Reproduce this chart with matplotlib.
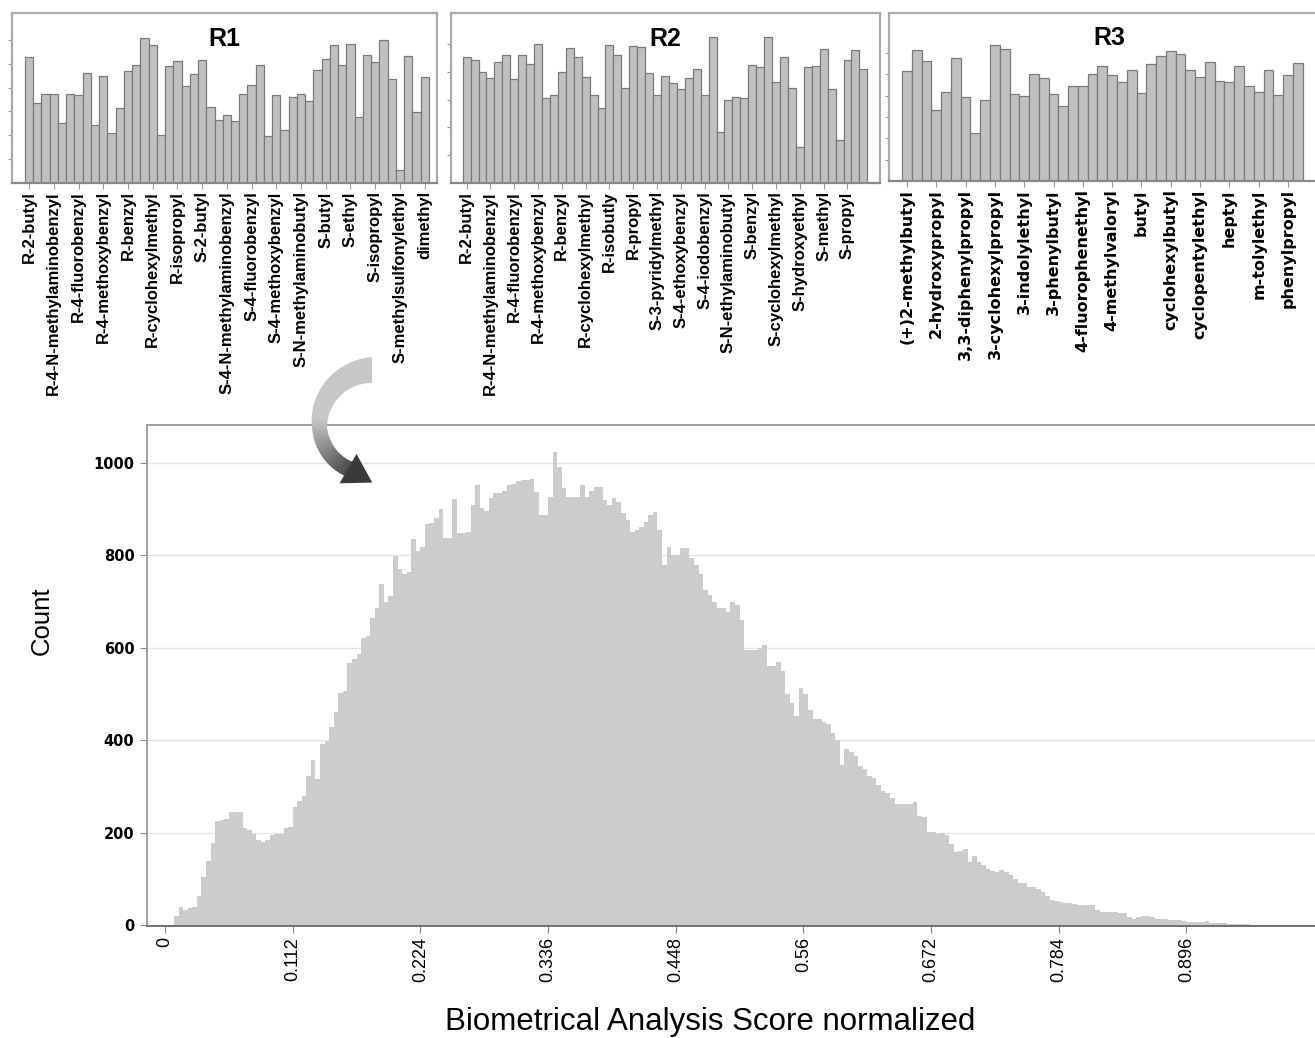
import numpy as np
import matplotlib
matplotlib.use("Agg")
import matplotlib.pyplot as plt
from matplotlib import font_manager
from matplotlib.patches import Polygon

plt.rcParams['font.family'] = ['Liberation Sans', 'DejaVu Sans']

"""
Data read off the picture.
Top panels: substituent scores per position (in tick units of each small chart).
Bottom: histogram of the normalized score, bins of 0.004 starting at 0.
"""
r1_labels = ['R-2-butyl', 'R-4-N-methylaminobenzyl', 'R-4-fluorobenzyl', 'R-4-methoxybenzyl',
             'R-benzyl', 'R-cyclohexylmethyl', 'R-isopropyl', 'S-2-butyl',
             'S-4-N-methylaminobenzyl', 'S-4-fluorobenzyl', 'S-4-methoxybenzyl',
             'S-N-methylaminobutyl', 'S-butyl', 'S-ethyl', 'S-isopropyl',
             'S-methylsulfonylethyl', 'dimethyl']
r1_values = [5.27, 3.36, 3.75, 3.75, 2.52, 3.75, 3.71, 4.62, 2.45, 4.48,
             2.10, 3.15, 4.69, 4.97, 6.08, 5.78, 2.03, 4.92, 5.10, 4.06,
             4.59, 5.15, 3.17, 2.66, 2.84, 2.62, 3.75, 4.13, 4.97, 1.96,
             3.68, 2.24, 3.61, 3.75, 3.43, 4.76, 5.22, 5.78, 4.97, 5.83,
             2.77, 5.36, 5.09, 5.99, 4.38, 0.56, 5.34, 2.98, 4.45]

r2_labels = ['R-2-butyl', 'R-4-N-methylaminobenzyl', 'R-4-fluorobenzyl', 'R-4-methoxybenzyl',
             'R-benzyl', 'R-cyclohexylmethyl', 'R-isobutly', 'R-propyl',
             'S-3-pyridylmethyl', 'S-4-ethoxybenzyl', 'S-4-iodobenzyl',
             'S-N-ethylaminobutyl', 'S-benzyl', 'S-cyclohexylmethyl', 'S-hydroxyethyl',
             'S-methyl', 'S-propyl']
r2_values = [4.52, 4.41, 4.01, 3.77, 4.37, 4.59, 3.75, 4.61, 4.28, 5.00,
             3.05, 3.17, 3.99, 4.86, 4.55, 3.81, 3.17, 2.71, 4.95, 4.61,
             3.41, 4.92, 4.89, 3.95, 3.17, 3.86, 3.61, 3.37, 3.77, 4.11,
             3.16, 5.24, 1.82, 2.99, 3.08, 3.05, 4.24, 4.17, 5.24, 3.65,
             4.55, 3.41, 1.30, 4.17, 4.22, 4.82, 3.37, 1.54, 4.43, 4.80, 4.11]

r3_labels = ['(+)2-methylbutyl', '2-hydroxypropyl', '3,3-diphenylpropyl', '3-cyclohexylpropyl',
             '3-indolylethyl', '3-phenylbutyl', '4-fluorophenethyl', '4-methylvaloryl',
             'butyl', 'cyclohexylbutyl', 'cyclopentylethyl', 'heptyl', 'm-tolylethyl',
             'phenylpropyl']
r3_values = [5.14, 6.16, 5.61, 3.34, 4.17, 5.77, 3.93, 2.24, 3.81, 6.36,
             6.21, 4.09, 4.01, 5.03, 4.83, 4.08, 3.54, 4.47, 4.47, 5.03,
             5.38, 4.95, 4.64, 5.19, 4.15, 5.50, 5.88, 6.11, 5.97, 5.22,
             4.86, 5.58, 4.70, 4.64, 5.38, 4.47, 4.17, 5.20, 4.03, 4.97, 5.53]

bin_width = 0.004
counts = [0, 0, 20, 40, 32, 38, 40, 63, 103, 139,
          178, 225, 228, 230, 245, 245, 245, 211, 206, 198,
          185, 180, 185, 195, 196, 198, 211, 213, 255, 269,
          280, 323, 358, 316, 392, 399, 428, 460, 503, 506,
          567, 575, 586, 621, 625, 665, 686, 737, 698, 712,
          799, 770, 759, 763, 835, 809, 817, 867, 871, 881,
          901, 837, 837, 921, 848, 848, 850, 909, 953, 903,
          896, 924, 935, 935, 940, 953, 955, 960, 962, 964,
          966, 937, 887, 887, 927, 1024, 991, 945, 927, 927,
          927, 952, 927, 940, 948, 948, 919, 909, 923, 915,
          891, 876, 851, 855, 862, 873, 887, 894, 855, 779,
          819, 801, 801, 815, 815, 794, 779, 760, 725, 714,
          700, 686, 686, 678, 700, 693, 660, 596, 596, 596,
          600, 606, 560, 560, 570, 549, 500, 481, 452, 513,
          500, 466, 445, 445, 440, 434, 415, 401, 347, 380,
          375, 365, 345, 337, 322, 318, 304, 290, 285, 276,
          262, 261, 261, 263, 266, 236, 233, 201, 201, 198,
          199, 195, 176, 158, 160, 165, 137, 150, 137, 130,
          122, 118, 115, 119, 115, 108, 100, 90, 90, 83,
          83, 78, 72, 62, 54, 52, 50, 47, 47, 45,
          43, 43, 43, 43, 33, 29, 29, 29, 28, 27,
          27, 18, 14, 17, 19, 19, 17, 14, 14, 13,
          11, 11, 12, 9, 7, 7, 6, 6, 9, 5,
          5, 4, 4, 3, 3, 2, 2, 2, 1, 1,
          1, 1, 0, 1, 0]
x_ticks = [0, 0.112, 0.224, 0.336, 0.448, 0.56, 0.672, 0.784, 0.896]
x_ticklabels = ['0', '0.112', '0.224', '0.336', '0.448', '0.56', '0.672', '0.784', '0.896']
y_ticks = [0, 200, 400, 600, 800, 1000]

# narrow font for the rotated x tick labels if there is one
narrow = 'Liberation Sans'
try:
    font_manager.findfont('Liberation Sans Narrow', fallback_to_default=False)
    narrow = 'Liberation Sans Narrow'
except ValueError:
    pass

W, H = 1315, 1038
fig = plt.figure(figsize=(W / 100, H / 100), dpi=100)


def px_axes(x0, y0, x1, y1):
    # axes from image pixel box (y measured from top)
    return fig.add_axes([x0 / W, 1 - y1 / H, (x1 - x0) / W, (y1 - y0) / H])


def small_panel(box, values, labels, xlim, ylim, nyt, title, lab_family, lab_size):
    ax = px_axes(*box)
    pos = np.arange(len(values))
    ax.bar(pos, values, width=1.0, color='#c0c0c0', edgecolor='#7a7a7a', linewidth=0.9)
    ax.set_xlim(*xlim)
    ax.set_ylim(0, ylim)
    ax.set_yticks(range(1, nyt + 1))
    ax.set_yticklabels([])
    ax.set_xticks(pos[::3][:len(labels)])
    ax.set_xticklabels(labels, rotation=90, fontweight='bold', fontsize=lab_size,
                       family=lab_family, va='top')
    ax.tick_params(axis='y', length=3, color='#999999', width=0.8)
    ax.tick_params(axis='x', length=4, color='#999999', width=0.8, pad=2)
    for s in ax.spines.values():
        s.set_color('#aaaaaa')
        s.set_linewidth(1.6)
    ax.spines['bottom'].set_color('#888888')
    ax.text(0.5, 0.85, title, transform=ax.transAxes, ha='center', va='center',
            fontsize=18, fontweight='bold')
    return ax


small_panel((12, 13, 437, 183), r1_values, r1_labels, (-2.08, 49.5), 7.13, 6, 'R1',
            ['Liberation Sans', 'DejaVu Sans'], 12)
small_panel((451, 13, 880, 183), r2_values, r2_labels, (-1.97, 52.1), 6.12, 5, 'R2',
            ['Liberation Sans', 'DejaVu Sans'], 12)
small_panel((889, 13, 1330, 181), r3_values, r3_labels, (-1.84, 43.3), 7.88, 6, 'R3',
            ['DejaVu Sans'], 11.5)

# main histogram
ax = px_axes(147, 425, 1330, 926)
edges = np.arange(len(counts)) * bin_width
ax.bar(edges, counts, width=bin_width, align='edge', color='#cccccc', linewidth=0, zorder=2)
ax.set_xlim((147 - 165) / 1140, (1330 - 165) / 1140)
ax.set_ylim(-2, 1082)
ax.set_axisbelow(True)
ax.yaxis.grid(True, color='#e4e4e4', linewidth=1.0)
ax.set_yticks(y_ticks)
ax.set_yticklabels([str(v) for v in y_ticks], fontsize=10.5, fontweight='bold',
                   family=['DejaVu Sans'])
ax.set_xticks(x_ticks)
ax.set_xticklabels(x_ticklabels, rotation=90, fontsize=13, family=[narrow, 'DejaVu Sans'])
ax.tick_params(axis='y', length=5, color='#888888', width=0.8, pad=4)
ax.tick_params(axis='x', length=5, color='#888888', width=0.8, pad=3)
for s in ax.spines.values():
    s.set_color('#999999')
    s.set_linewidth(1.3)
ax.spines['bottom'].set_color('#666666')

fig.text(42 / W, 1 - 621 / H, 'Count', rotation=90, ha='center', va='center', fontsize=18.5)
fig.text(710 / W, 1 - 1022 / H, 'Biometrical Analysis Score normalized',
         ha='center', va='center', fontsize=22.5)

# curved grey arrow from the R1 labels down into the histogram
ov = fig.add_axes([0, 0, 1, 1])
ov.set_xlim(0, W)
ov.set_ylim(0, H)
ov.axis('off')
ov.patch.set_alpha(0)
cx, cy = 372, H - 427
angs = np.linspace(90, 240, 61)
r_out = np.interp(angs, [90, 180, 240], [70, 60, 56])
r_in = np.interp(angs, [90, 180, 240], [44, 45, 40])
for i in range(len(angs) - 1):
    a0, a1 = np.radians(angs[i]), np.radians(angs[i + 1] + 0.6)
    pts = [(cx + r_out[i] * np.cos(a0), cy + r_out[i] * np.sin(a0)),
           (cx + r_out[i + 1] * np.cos(a1), cy + r_out[i + 1] * np.sin(a1)),
           (cx + r_in[i + 1] * np.cos(a1), cy + r_in[i + 1] * np.sin(a1)),
           (cx + r_in[i] * np.cos(a0), cy + r_in[i] * np.sin(a0))]
    t = np.clip((angs[i] - 170) / 70, 0, 1)
    g = 0.78 - 0.5 * t
    ov.add_patch(Polygon(pts, closed=True, facecolor=(g, g, g), edgecolor='none'))
a = np.radians(240)
u = np.array([np.cos(a), np.sin(a)])
tang = np.array([-np.sin(a), np.cos(a)])
c = np.array([cx, cy])
p_o = c + (r_out[-1] + 9) * u
p_i = c + (r_in[-1] - 9) * u
tip = c + 0.5 * (r_out[-1] + r_in[-1]) * u + 28 * tang
ov.add_patch(Polygon([p_o, tip, p_i], closed=True, facecolor='#3a3a3a', edgecolor='none'))

fig.savefig('out.png', dpi=100)
